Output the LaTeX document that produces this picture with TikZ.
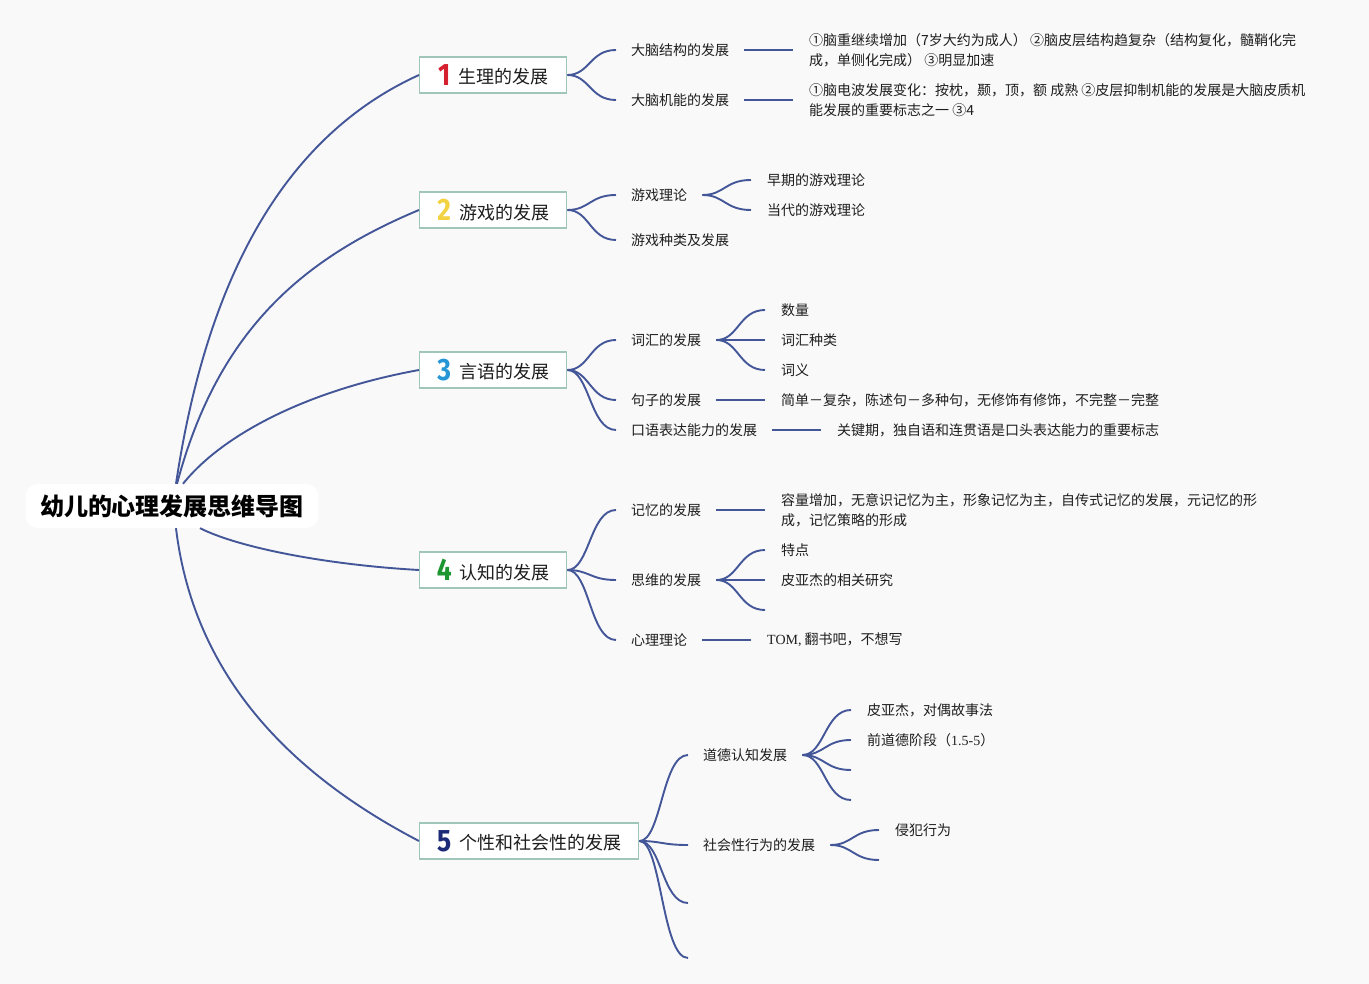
\documentclass[tikz,border=0pt]{standalone}
\usepackage{fontspec}
\setmainfont{Liberation Serif}
\newfontfamily\cjk{Noto Sans CJK SC}
\newfontfamily\numfont{Fira Sans}
\usetikzlibrary{positioning}

\definecolor{linkblue}{RGB}{67,86,152}
\definecolor{boxedge}{RGB}{160,198,186}
\definecolor{paper}{RGB}{249,249,250}
\definecolor{ink}{RGB}{30,30,30}
\definecolor{numred}{RGB}{214,32,48}
\definecolor{numyellow}{RGB}{243,210,66}
\definecolor{numblue}{RGB}{38,150,214}
\definecolor{numgreen}{RGB}{28,150,48}
\definecolor{numnavy}{RGB}{28,42,120}

% coloured topic number in front of a main branch
\newcommand{\topicnum}[2]{\textcolor{#1}{\raisebox{-1.5pt}{\scalebox{0.85}[1]{\numfont\bfseries\fontsize{31}{31}\selectfont #2}}}\hspace{8pt}}

\begin{document}
\begin{tikzpicture}[x=1pt,y=-1pt,
  link/.style={draw=linkblue,line width=1.9pt},
  twig/.style={link,to path={.. controls +(22,0) and +(-26,0) .. (\tikztotarget)}},
  titlebox/.style={fill=white,rounded corners=12pt,minimum width=293pt,minimum height=44pt,
    font=\cjk\bfseries\fontsize{24}{26}\selectfont,text=black},
  topic/.style={anchor=west,draw=boxedge,line width=1.4pt,fill=white,minimum width=147pt,
    minimum height=36pt,inner sep=0pt,font=\cjk\fontsize{18}{20}\selectfont,text=ink},
  sub/.style={anchor=west,inner xsep=15pt,inner ysep=2pt,font=\cjk\fontsize{14}{20}\selectfont,text=ink},
  detail/.style={sub,inner xsep=16pt,align=left}]
 \fill[paper] (0,0) rectangle (1369,984);
 \useasboundingbox (0,0) rectangle (1369,984);

 % centre and main branches
 \node[titlebox] (title) at (172,506) {幼儿的心理发展思维导图};
 \node[topic] (t1) at (419,75) {\topicnum{numred}{1}生理的发展};
 \node[topic] (t2) at (419,210) {\topicnum{numyellow}{2}游戏的发展};
 \node[topic] (t3) at (419,370) {\topicnum{numblue}{3}言语的发展};
 \node[topic] (t4) at (419,570) {\topicnum{numgreen}{4}认知的发展};
 \node[topic,minimum width=219pt] (t5) at (419,841) {\topicnum{numnavy}{5}个性和社会性的发展};

 \draw[link] ([xshift=4pt]title.north) .. controls +(32,-214) and +(-130,59) .. (t1.west);
 \draw[link] ([xshift=5pt]title.north) .. controls +(40,-150) and +(-120,50) .. (t2.west);
 \draw[link] ([xshift=11pt]title.north) .. controls +(40,-50) and +(-110,20) .. (t3.west);
 \draw[link] ([xshift=28pt]title.south) .. controls +(40,20) and +(-90,-5) .. (t4.west);
 \draw[link] ([xshift=4pt]title.south) .. controls +(16,133) and +(-146,-76) .. (t5.west);

 % 1
 \node[sub] (a1) at (616,50) {大脑结构的发展};
 \node[sub] (a2) at (616,100) {大脑机能的发展};
 \node[detail] (a1d) at (793,50) {①脑重继续增加（7岁大约为成人） ②脑皮层结构趋复杂（结构复化，髓鞘化完\\成，单侧化完成） ③明显加速};
 \node[detail] (a2d) at (793,100) {①脑电波发展变化：按枕，颞，顶，额 成熟 ②皮层抑制机能的发展是大脑皮质机\\能发展的重要标志之一 ③4};
 \draw[twig] (t1.east) to (a1.west);
 \draw[twig] (t1.east) to (a2.west);
 \draw[link] (a1.east) -- (a1d.west);
 \draw[link] (a2.east) -- (a2d.west);

 % 2
 \node[sub] (b1) at (616,195) {游戏理论};
 \node[sub] (b2) at (616,240) {游戏种类及发展};
 \node[detail] (b11) at (751,180) {早期的游戏理论};
 \node[detail] (b12) at (751,210) {当代的游戏理论};
 \draw[twig] (t2.east) to (b1.west);
 \draw[twig] (t2.east) to (b2.west);
 \draw[twig] (b1.east) to (b11.west);
 \draw[twig] (b1.east) to (b12.west);

 % 3
 \node[sub] (c1) at (616,340) {词汇的发展};
 \node[sub] (c2) at (616,400) {句子的发展};
 \node[sub] (c3) at (616,430) {口语表达能力的发展};
 \node[detail] (c11) at (765,310) {数量};
 \node[detail] (c12) at (765,340) {词汇种类};
 \node[detail] (c13) at (765,370) {词义};
 \node[detail] (c2d) at (765,400) {简单－复杂，陈述句－多种句，无修饰有修饰，不完整－完整};
 \node[detail] (c3d) at (821,430) {关键期，独自语和连贯语是口头表达能力的重要标志};
 \foreach \n in {c1,c2,c3} \draw[twig] (t3.east) to (\n.west);
 \foreach \n in {c11,c12,c13} \draw[twig] (c1.east) to (\n.west);
 \draw[link] (c2.east) -- (c2d.west);
 \draw[link] (c3.east) -- (c3d.west);

 % 4
 \node[sub] (d1) at (616,510) {记忆的发展};
 \node[sub] (d2) at (616,580) {思维的发展};
 \node[sub] (d3) at (616,640) {心理理论};
 \node[detail] (d1d) at (765,510) {容量增加，无意识记忆为主，形象记忆为主，自传式记忆的发展，元记忆的形\\成，记忆策略的形成};
 \node[detail] (d21) at (765,550) {特点};
 \node[detail] (d22) at (765,580) {皮亚杰的相关研究};
 \coordinate (d23) at (765,610);
 \node[detail] (d3d) at (751,640) {{\rmfamily TOM,} 翻书吧，不想写};
 \foreach \n in {d1,d2,d3} \draw[twig] (t4.east) to (\n.west);
 \draw[link] (d1.east) -- (d1d.west);
 \draw[twig] (d2.east) to (d21.west);
 \draw[twig] (d2.east) to (d22.west);
 \draw[twig] (d2.east) to (d23);
 \draw[link] (d3.east) -- (d3d.west);

 % 5
 \node[sub] (e1) at (688,755) {道德认知发展};
 \node[sub] (e2) at (688,845) {社会性行为的发展};
 \coordinate (e3) at (688,903);
 \coordinate (e4) at (688,958);
 \node[detail] (e11) at (851,710) {皮亚杰，对偶故事法};
 \node[detail] (e12) at (851,740) {前道德阶段（{\rmfamily 1.5-5}）};
 \coordinate (e13) at (851,770);
 \coordinate (e14) at (851,800);
 \node[detail] (e21) at (879,830) {侵犯行为};
 \coordinate (e22) at (879,860);
 \draw[twig] (t5.east) to (e1.west);
 \draw[twig] (t5.east) to (e2.west);
 \draw[twig] (t5.east) to (e3);
 \draw[twig] (t5.east) to (e4);
 \draw[twig] (e1.east) to (e11.west);
 \draw[twig] (e1.east) to (e12.west);
 \draw[twig] (e1.east) to (e13);
 \draw[twig] (e1.east) to (e14);
 \draw[twig] (e2.east) to (e21.west);
 \draw[twig] (e2.east) to (e22);
\end{tikzpicture}
\end{document}
